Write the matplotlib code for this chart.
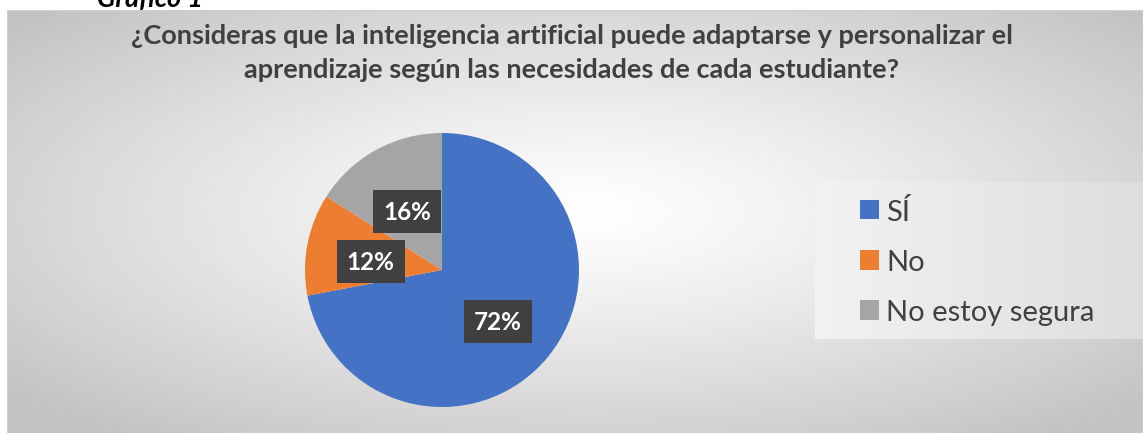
import numpy as np
import matplotlib
matplotlib.use("Agg")
import matplotlib.pyplot as plt
from matplotlib.patches import Rectangle
import matplotlib.transforms as mtransforms

categories = ["SÍ", "No", "No estoy segura"]
values = [72, 12, 16]
colors = ["#4472C4", "#ED7D31", "#A5A5A5"]
title = "¿Consideras que la inteligencia artificial puede adaptarse y personalizar el\naprendizaje según las necesidades de cada estudiante?"
caption = "Gráfico 1"

W, H = 1146, 435
fig = plt.figure(figsize=(W / 100, H / 100), dpi=100)
fig.patch.set_facecolor("white")

def fx(px):
    return px / W

def fy(py):
    return 1 - py / H

# chart-area background with radial gradient
x0, x1, y0, y1 = 7, 1143, 11, 434
bg = fig.add_axes([fx(x0), fy(y1), fx(x1 - x0), (y1 - y0) / H])
bg.set_axis_off()
nx, ny = 400, 160
xx, yy = np.meshgrid(np.linspace(-1, 1, nx), np.linspace(-1, 1, ny))
cx, cy = 0.02, 0.05
d = np.sqrt(((xx - cx) / 1.0) ** 2 + ((yy - cy) / 1.0) ** 2) / np.sqrt(2)
d = np.clip(d / 0.95, 0, 1)
lo, hi = 0.765, 1.0
v = hi - (hi - lo) * d ** 1.2
img = np.dstack([v, v, v])
bg.imshow(img, extent=[0, 1, 0, 1], aspect="auto", origin="lower")
bg.add_patch(Rectangle((0, 0), 1, 1, transform=bg.transAxes, fill=False,
                       edgecolor="#d0d0d0", lw=1))

# caption cut off at top
fig.text(fx(97), fy(7), caption, fontsize=19.5, fontweight="bold", style="italic",
         family="Lato", color="black", ha="left", va="baseline")

# title (baseline = last line's baseline)
fig.text(fx(572), fy(78), title, fontsize=19.5, fontweight="bold", family="Lato",
         color="#404040", ha="center", va="baseline", linespacing=1.5,
         multialignment="center")

# pie
pcx, pcy, r = 442, 271, 137
ax = fig.add_axes([fx(pcx - r), fy(pcy + r), fx(2 * r), 2 * r / H])
wedges, texts, autotexts = ax.pie(values, colors=colors, startangle=90, counterclock=False,
                                  autopct="%1.0f%%", pctdistance=0.53,
                                  wedgeprops=dict(linewidth=0),
                                  textprops=dict(color="white", fontsize=17.5,
                                                 fontweight="bold", family="Lato"))
shift = mtransforms.ScaledTranslation(0, -5 / 100, fig.dpi_scale_trans)
for t in autotexts:
    t.set_transform(t.get_transform() + shift)
    t.set_bbox(dict(boxstyle="square,pad=0.42", facecolor="#404040", edgecolor="none"))
ax.set_xlim(-1, 1)
ax.set_ylim(-1, 1)
ax.set_aspect("equal")

# legend box
lx0, lx1, ly0, ly1 = 815, 1143, 183, 340
lax = fig.add_axes([fx(lx0), fy(ly1), fx(lx1 - lx0), (ly1 - ly0) / H])
lax.set_axis_off()
gx = np.linspace(0, 1, 200)
lg = 0.95 - 0.08 * gx
limg = np.repeat(np.dstack([lg, lg, lg]), 10, axis=0)
lax.imshow(limg, extent=[0, 1, 0, 1], aspect="auto")
lax.set_xlim(0, 1)
lax.set_ylim(0, 1)

leg = fig.legend(wedges, categories, loc="upper left",
                 bbox_to_anchor=(fx(860), fy(199)), frameon=False,
                 prop=dict(family="Lato", size=21), labelcolor="#404040",
                 handlelength=0.65, handleheight=0.65, handletextpad=0.25,
                 labelspacing=0.83, borderpad=0, borderaxespad=0)

fig.savefig("out.png", dpi=100)
